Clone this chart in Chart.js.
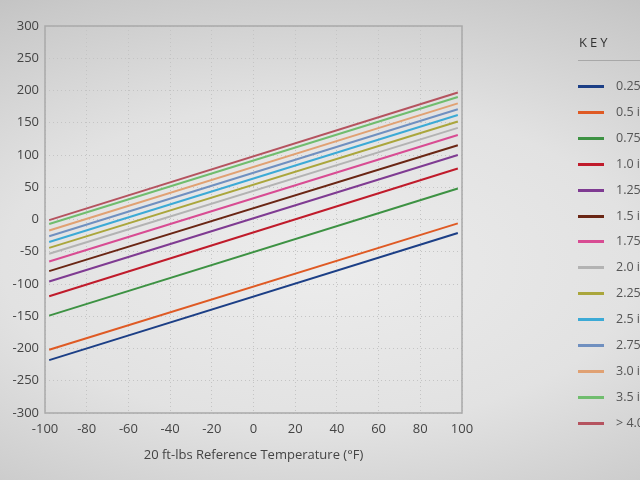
<!DOCTYPE html>
<html>
<head>
<meta charset="utf-8">
<script src="https://cdn.jsdelivr.net/npm/chart.js@4/dist/chart.umd.min.js"></script>
<style>
  html, body { margin: 0; padding: 0; width: 640px; height: 480px; overflow: hidden; }
  body {
    background: radial-gradient(ellipse 110% 75% at 50% 55%, #ececec 0%, #e2e2e2 45%, #c9c9c9 80%, #b9b9b9 100%);
    font-family: "Open Sans", sans-serif;
    position: relative;
  }
  #wrap { position: absolute; left: 0; top: 0; width: 640px; height: 480px; }
  #key { position: absolute; left: 578px; top: 0; width: 200px; white-space: nowrap; }
  #key .title { position: absolute; top: 33px; left: 1px; font-size: 13px; letter-spacing: 3px; color: #333; }
  #key .rule { position: absolute; top: 60px; left: 0; width: 120px; height: 1px; background: #a8a8a8; }
  #key .item { position: absolute; left: 0; height: 16px; }
  #key .sw { position: absolute; left: 0; top: 7px; width: 26px; height: 3px; }
  #key .lb { position: absolute; left: 38px; top: 0; font-size: 12.5px; color: #555; line-height: 16px; }
</style>
</head>
<body>
<div id="wrap"><canvas id="c" width="640" height="480"></canvas></div>
<div id="key"><div class="title">KEY</div><div class="rule"></div></div>
<script>
// series names and their line colours
const seriesNames = ['0.25 in.', '0.5 in.', '0.75 in.', '1.0 in.', '1.25 in.', '1.5 in.', '1.75 in.',
  '2.0 in.', '2.25 in.', '2.5 in.', '2.75 in.', '3.0 in.', '3.5 in.', '> 4.0 in.'];
const seriesColors = ['#1c3f86', '#df5a24', '#3d9243', '#c01b2b', '#7f3b92', '#6a2614', '#d84c93',
  '#b3b3b3', '#aaa63c', '#3caad6', '#7090c0', '#e0a173', '#70bd6e', '#b5535f'];

// temperature at start and end of every line (°F)
const tempRange = [-98, 98];
// y value at start / end of every line
const startValues = [-218, -202, -149, -119, -96, -80, -65, -53, -44, -35, -26, -17, -7, -1];
const endValues = [-21, -6, 48, 79, 100, 115, 131, 142, 152, 162, 171, 180, 190, 197];

const xTicks = [-100, -80, -60, -40, -20, 0, 20, 40, 60, 80, 100];
const yTicks = [-300, -250, -200, -150, -100, -50, 0, 50, 100, 150, 200, 250, 300];

const datasets = seriesNames.map((name, i) => ({
  label: name,
  data: [{ x: tempRange[0], y: startValues[i] }, { x: tempRange[1], y: endValues[i] }],
  borderColor: seriesColors[i],
  backgroundColor: seriesColors[i],
  borderWidth: 2,
  pointRadius: 0,
  showLine: true,
  fill: false
}));

// html key, cut off by the window edge like the original
const key = document.getElementById('key');
seriesNames.forEach((name, i) => {
  const it = document.createElement('div');
  it.className = 'item';
  it.style.top = (78 + i * 25.9) + 'px';
  it.innerHTML = '<div class="sw" style="background:' + seriesColors[i] + '"></div><div class="lb">' + name + '</div>';
  key.appendChild(it);
});

const borderBox = {
  id: 'borderBox',
  afterDraw(chart) {
    const a = chart.chartArea, ctx = chart.ctx;
    ctx.save();
    ctx.strokeStyle = '#a9a9a9';
    ctx.lineWidth = 1.5;
    ctx.strokeRect(a.left, a.top, a.right - a.left, a.bottom - a.top);
    ctx.restore();
  }
};

const tickFont = { family: 'Open Sans', size: 13 };
new Chart(document.getElementById('c'), {
  type: 'scatter',
  data: { datasets: datasets },
  options: {
    responsive: false,
    animation: false,
    layout: { padding: { top: 26, right: 178, left: 0, bottom: 0 } },
    plugins: { legend: { display: false }, tooltip: { enabled: false } },
    scales: {
      x: {
        type: 'linear', min: -100, max: 100,
        afterBuildTicks: s => { s.ticks = xTicks.map(v => ({ value: v })); },
        afterFit: s => { s.height = 67; },
        grid: { color: '#c4c4c4', lineWidth: 1, drawTicks: false },
        border: { display: false, dash: [1, 3] },
        ticks: { color: '#444', font: tickFont, padding: 8 },
        title: { display: true, text: '20 ft-lbs Reference Temperature (°F)', color: '#444', font: tickFont, padding: { top: 6, bottom: 17 } }
      },
      y: {
        min: -300, max: 300,
        afterBuildTicks: s => { s.ticks = yTicks.map(v => ({ value: v })); },
        afterFit: s => { s.width = 45; },
        grid: { color: '#c4c4c4', lineWidth: 1, drawTicks: false },
        border: { display: false, dash: [1, 3] },
        ticks: { color: '#444', font: tickFont, padding: 6 }
      }
    }
  },
  plugins: [borderBox]
});
</script>
</body>
</html>
